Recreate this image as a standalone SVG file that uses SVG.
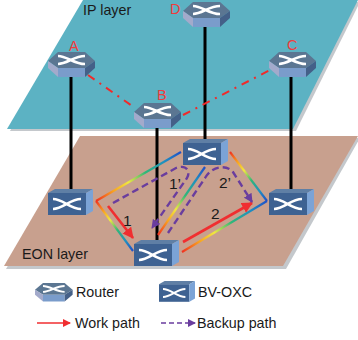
<svg xmlns="http://www.w3.org/2000/svg" width="358" height="340" viewBox="0 0 358 340">
<style>
text{font-family:"Liberation Sans",Arial,sans-serif;fill:#1a1a1a;font-size:14.3px}
.r{fill:#f03c3c;font-size:14.5px}
.n{font-size:15.500px}
.b{fill:none;stroke:#000;stroke-width:3}
.dd{fill:none;stroke:#f02a2a;stroke-width:2;stroke-dasharray:8 6 2 6}
.w{fill:none;stroke:#f02e30;stroke-width:2.6}
.p{fill:none;stroke:#6a3d9e;stroke-width:2.4;stroke-dasharray:7 4}
.rb{fill:none;stroke-width:2.2}
.x{fill:none;stroke:#fff;stroke-width:2.6}
</style>
<defs>
<marker id="mr" markerUnits="userSpaceOnUse" markerWidth="11" markerHeight="11" refX="10" refY="5.500" orient="auto"><path d="M0,0L11,5.500L0,11z" fill="#f02e30"/></marker>
<marker id="mp" markerUnits="userSpaceOnUse" markerWidth="9" markerHeight="9" refX="8" refY="4.500" orient="auto"><path d="M0,0L9,4.500L0,9z" fill="#6a3d9e"/></marker>
<marker id="mrs" markerUnits="userSpaceOnUse" markerWidth="8" markerHeight="8" refX="7" refY="4" orient="auto"><path d="M0,0L8,4L0,8z" fill="#f02e30"/></marker>
<marker id="mps" markerUnits="userSpaceOnUse" markerWidth="8" markerHeight="8" refX="7" refY="4" orient="auto"><path d="M0,0L8,4L0,8z" fill="#6a3d9e"/></marker>
<linearGradient id="g1" gradientUnits="userSpaceOnUse" x1="96" y1="201" x2="181" y2="152"><stop offset="0" stop-color="#f03020"/><stop offset=".2" stop-color="#f8a020"/><stop offset=".38" stop-color="#f0e840"/><stop offset=".58" stop-color="#30b878"/><stop offset=".8" stop-color="#2090c0"/><stop offset="1" stop-color="#2050c8"/></linearGradient>
<linearGradient id="g2" gradientUnits="userSpaceOnUse" x1="96" y1="201" x2="133" y2="251"><stop offset="0" stop-color="#f03020"/><stop offset=".2" stop-color="#f8a020"/><stop offset=".38" stop-color="#f0e840"/><stop offset=".58" stop-color="#30b878"/><stop offset=".8" stop-color="#2090c0"/><stop offset="1" stop-color="#2050c8"/></linearGradient>
<linearGradient id="g3" gradientUnits="userSpaceOnUse" x1="158" y1="235" x2="205" y2="167"><stop offset="0" stop-color="#f03020"/><stop offset=".2" stop-color="#f8a020"/><stop offset=".38" stop-color="#f0e840"/><stop offset=".58" stop-color="#30b878"/><stop offset=".8" stop-color="#2090c0"/><stop offset="1" stop-color="#2050c8"/></linearGradient>
<linearGradient id="g4" gradientUnits="userSpaceOnUse" x1="230" y1="152" x2="267" y2="201"><stop offset="0" stop-color="#f03020"/><stop offset=".2" stop-color="#f8a020"/><stop offset=".38" stop-color="#f0e840"/><stop offset=".58" stop-color="#30b878"/><stop offset=".8" stop-color="#2090c0"/><stop offset="1" stop-color="#2050c8"/></linearGradient>
<linearGradient id="g5" gradientUnits="userSpaceOnUse" x1="182" y1="252" x2="267" y2="201"><stop offset="0" stop-color="#f03020"/><stop offset=".2" stop-color="#f8a020"/><stop offset=".38" stop-color="#f0e840"/><stop offset=".58" stop-color="#30b878"/><stop offset=".8" stop-color="#2090c0"/><stop offset="1" stop-color="#2050c8"/></linearGradient>
<symbol id="router" viewBox="0 0 47 25" width="47" height="25" overflow="visible">
<path d="M10,0H37L47,9L37,16H10L0,9z" fill="#5b7692"/>
<path d="M10,16H37V25H10z" fill="#7a9ccb"/>
<path d="M0,9L10,16V25L0,16z" fill="#a3aacb"/>
<path d="M37,16L47,9V16L37,25z" fill="#446088"/>
<path class="x" d="M10,4C19,4 26,12 37,12M10,12C19,12 26,4 37,4"/>
</symbol>
<symbol id="oxc" viewBox="0 0 45 26" width="45" height="26" overflow="visible">
<path d="M0,4L7,0H45L38,4z" fill="#5f7fa5"/>
<path d="M0,4H38V26H0z" fill="#3e6292"/>
<path d="M38,4L45,0V22L38,26z" fill="#7ba3d6"/>
<path class="x" d="M5,10C15,10 22,20 33,20M5,20C15,20 22,10 33,10"/>
</symbol>
</defs>
<g id="ip-plane">
<path d="M85,2H360L296,131H10z" fill="#c4c8cc"/>
<path d="M83,0H358L293,129H7z" fill="#5cb2c3"/>
<text x="83" y="15">IP layer</text>
</g>
<g id="eon-plane">
<path d="M82,138H360L286,269H6z" fill="#c4c8cc"/>
<path d="M80,136H358L283,266H4z" fill="#c8a08e"/>
<text x="22" y="259">EON layer</text>
</g>
<g id="connectors">
<path class="b" d="M71,76V189M205,26V139M291,77V189M157,127V240"/>
<path class="dd" d="M88,75L135,108M183,115L270,70"/>
<path class="rb" stroke="url(#g1)" d="M181,152L96,201"/>
<path class="rb" stroke="url(#g2)" d="M96,201L133,251"/>
<path class="rb" stroke="url(#g3)" d="M158,235L205,167"/>
<path class="rb" stroke="url(#g4)" d="M230,152L267,201"/>
<path class="rb" stroke="url(#g5)" d="M267,201L182,252"/>
<path class="w" marker-end="url(#mr)" d="M108,206L133,238"/>
<path class="w" marker-end="url(#mr)" d="M183,242L252,203"/>
<path class="p" marker-end="url(#mp)" d="M113,203L176,168C186,164 191,171 187,178L152,228"/>
<path class="p" marker-end="url(#mp)" d="M168,233L205,178C212,166 226,164 233,172L252,202"/>
</g>
<g id="labels">
<text class="n" x="123" y="226">1</text>
<text class="n" x="169" y="189">1’</text>
<text class="n" x="219" y="188">2’</text>
<text class="n" x="211" y="219">2</text>
</g>
<g id="A"><use href="#router" x="48" y="52"/><text class="r" x="69" y="51">A</text></g>
<g id="B"><use href="#router" x="134" y="103"/><text class="r" x="157" y="100">B</text></g>
<g id="C"><use href="#router" x="269" y="52"/><text class="r" x="287" y="50">C</text></g>
<g id="D"><use href="#router" x="183" y="2"/><text class="r" x="170" y="14">D</text></g>
<g id="oxc-left"><use href="#oxc" x="48" y="189"/></g>
<g id="oxc-bottom"><use href="#oxc" x="134" y="240"/></g>
<g id="oxc-top"><use href="#oxc" x="183" y="139"/></g>
<g id="oxc-right"><use href="#oxc" x="269" y="189"/></g>
<g id="legend">
<use href="#router" transform="translate(35,283) scale(.8,.74)"/>
<text x="76" y="297">Router</text>
<use href="#oxc" transform="translate(159,281) scale(.8,.8)"/>
<text x="198" y="297">BV-OXC</text>
<path d="M37,323H70" fill="none" stroke="#f02e30" stroke-width="1.6" marker-end="url(#mrs)"/>
<text x="75" y="328">Work path</text>
<path d="M161,323H195" fill="none" stroke="#6a3d9e" stroke-width="1.6" stroke-dasharray="5 3" marker-end="url(#mps)"/>
<text x="197" y="328">Backup path</text>
</g>
</svg>
